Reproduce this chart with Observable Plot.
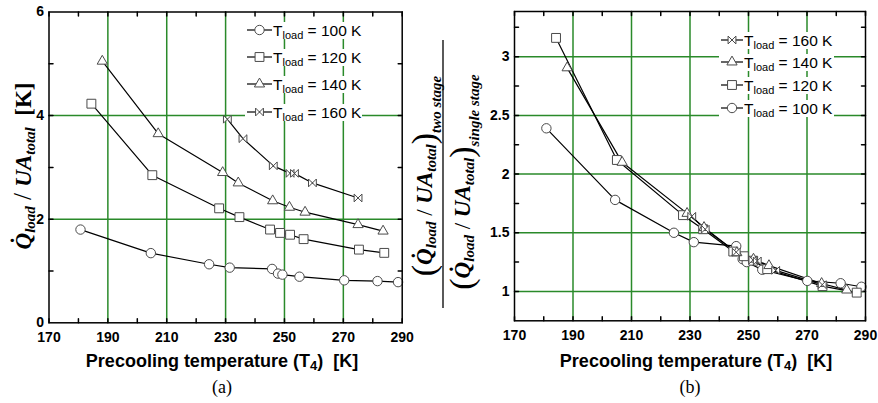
<!DOCTYPE html>
<html><head><meta charset="utf-8">
<script src="https://cdn.jsdelivr.net/npm/d3@7"></script>
<script src="https://cdn.jsdelivr.net/npm/@observablehq/plot@0.6"></script>
<style>
body{margin:0;background:#fff;}
#wrap{position:relative;width:878px;height:403px;overflow:hidden;font-family:"Liberation Sans",Arial,sans-serif;background:#fff;}
.panel{position:absolute;top:0;}
.xt{position:absolute;top:350px;height:22px;line-height:22px;font-weight:bold;font-size:18px;text-align:center;white-space:nowrap;}
.xt sub{font-size:13px;vertical-align:-3px;line-height:0;}
.cap{position:absolute;top:376px;height:22px;line-height:22px;font-family:"Liberation Serif","Times New Roman",serif;font-size:18px;text-align:center;}
#ov{position:absolute;left:0;top:0;}
</style></head><body><div id="wrap"></div>
<script>
// ---------- data: panel (a) ----------
const xA100 = [180.7, 204.6, 224.4, 231.4, 245.8, 247.8, 249.3, 255.1, 270.3, 281.6, 288.6];
const yA100 = [1.80, 1.345, 1.13, 1.065, 1.04, 0.95, 0.93, 0.89, 0.82, 0.805, 0.785];
const xA120 = [184.4, 205.1, 227.8, 234.7, 245.1, 248.5, 251.9, 256.5, 275.3, 283.9];
const yA120 = [4.23, 2.85, 2.21, 2.04, 1.80, 1.735, 1.70, 1.615, 1.413, 1.35];
const xA140 = [188.1, 207.1, 229.0, 234.3, 246.0, 251.7, 257.0, 275.0, 283.5];
const yA140 = [5.05, 3.65, 2.90, 2.70, 2.355, 2.23, 2.135, 1.895, 1.77];
const xA160 = [230.6, 235.9, 246.2, 251.9, 253.4, 259.5, 275.0];
const yA160 = [3.93, 3.555, 3.03, 2.885, 2.885, 2.70, 2.41];
// ---------- data: panel (b) ----------
const xB100 = [180.9, 204.4, 224.5, 231.3, 245.8, 248.0, 249.4, 254.7, 270.1, 281.5, 288.6];
const yB100 = [2.39, 1.78, 1.50, 1.42, 1.386, 1.275, 1.25, 1.185, 1.09, 1.07, 1.04];
const xB120 = [184.2, 205.0, 227.6, 234.5, 244.8, 248.4, 251.6, 256.4, 275.3, 287.0];
const yB120 = [3.16, 2.12, 1.65, 1.53, 1.34, 1.30, 1.262, 1.19, 1.045, 0.99];
const xB140 = [188.0, 206.8, 229.0, 234.8, 246.0, 251.7, 257.0, 275.0, 283.6];
const yB140 = [2.905, 2.10, 1.665, 1.545, 1.33, 1.275, 1.22, 1.068, 1.012];
const xB160 = [230.6, 235.2, 245.8, 251.5, 253.0, 259.3, 275.2];
const yB160 = [1.64, 1.53, 1.335, 1.268, 1.26, 1.18, 1.058];
// ---------- axes ----------
const xTickLabels = [170, 190, 210, 230, 250, 270, 290];
const xGrid = [190, 210, 230, 250, 270];
const xMinor = [180, 200, 220, 240, 260, 280];
const yTickLabelsA = [0, 2, 4, 6];
const yGridA = [2, 4];
const yMinorA = [1, 3, 5];
const yTickLabelsB = [1, 1.5, 2, 2.5, 3];
const yGridB = [1, 1.5, 2, 2.5, 3];
const yMinorB = [1.25, 1.75, 2.25, 2.75, 3.25];
const legendA = ["100", "120", "140", "160"];
const legendB = ["160", "140", "120", "100"];

const GREEN = "#2a8a2a";
const MARK = "#4a4a4a";
const rows = (xs, ys) => xs.map((x, i) => ({x, y: ys[i]}));
const bowtie = {draw(ctx, size) { const w = Math.sqrt(size / Math.PI) * 0.85;
  ctx.moveTo(-w, -w); ctx.lineTo(w, w); ctx.lineTo(w, -w); ctx.lineTo(-w, w); ctx.closePath(); }};
const tickShape = {draw(ctx, l) { ctx.moveTo(0, 0); ctx.lineTo(0, -l); }};
const sym = {"100": ["circle", 4.7], "120": ["square", 5.0], "140": ["triangle", 3.8], "160": [bowtie, 4.6]};
const fmt = d => String(d);

function panel({series, xDom, yDom, yLabels, yGrid, yMinor, width, ml, mr, mt, mb}) {
  const allX = [...xTickLabels, ...xMinor];
  const allY = [...yLabels, ...yMinor].filter(v => v > yDom[0] && v < yDom[1]);
  const marks = [
    Plot.ruleX(xGrid, {x: d => d, stroke: GREEN, strokeWidth: 1.5}),
    Plot.ruleY(yGrid, {y: d => d, stroke: GREEN, strokeWidth: 1.5}),
    Plot.vector(allX, {x: d => d, y: () => yDom[0], length: 4, rotate: 0, anchor: "start", shape: tickShape, stroke: "black"}),
    Plot.vector(allX, {x: d => d, y: () => yDom[1], length: 4, rotate: 180, anchor: "start", shape: tickShape, stroke: "black"}),
    Plot.vector(allY, {x: () => xDom[0], y: d => d, length: 4, rotate: 90, anchor: "start", shape: tickShape, stroke: "black"}),
    Plot.vector(allY, {x: () => xDom[1], y: d => d, length: 4, rotate: -90, anchor: "start", shape: tickShape, stroke: "black"}),
    Plot.axisX(xTickLabels, {tickSize: 0, tickPadding: 9, label: null, fontWeight: "bold", tickFormat: fmt}),
    Plot.axisY(yLabels, {tickSize: 0, tickPadding: 5, label: null, fontWeight: "bold", tickFormat: fmt})
  ];
  for (const [k, data] of series) marks.push(Plot.line(data, {x: "x", y: "y", stroke: "black", strokeWidth: 1.2}));
  for (const [k, data] of series) marks.push(Plot.dot(data, {x: "x", y: "y", symbol: sym[k][0], r: sym[k][1], fill: "white", stroke: MARK, strokeWidth: 1}));
  marks.push(Plot.frame({stroke: "black", strokeWidth: 1.5}));
  return Plot.plot({
    width, height: 345,
    marginLeft: ml, marginRight: mr, marginTop: mt, marginBottom: mb,
    x: {domain: xDom}, y: {domain: yDom},
    style: {fontFamily: '"Liberation Sans", Arial, sans-serif', fontSize: "14px", fontWeight: "bold", color: "black", background: "transparent", overflow: "visible"},
    marks
  });
}

const wrap = document.getElementById("wrap");
const pA = panel({
  series: [["100", rows(xA100, yA100)], ["120", rows(xA120, yA120)], ["140", rows(xA140, yA140)], ["160", rows(xA160, yA160)]],
  xDom: [170, 290], yDom: [0, 6], yLabels: yTickLabelsA, yGrid: yGridA, yMinor: yMinorA,
  width: 440, ml: 48.5, mr: 38.3, mt: 11.5, mb: 22.7
});
pA.classList.add("panel"); pA.style.left = "0px"; wrap.appendChild(pA);
const pB = panel({
  series: [["100", rows(xB100, yB100)], ["120", rows(xB120, yB120)], ["140", rows(xB140, yB140)], ["160", rows(xB160, yB160)]],
  xDom: [170, 290], yDom: [0.75, 3.385], yLabels: yTickLabelsB, yGrid: yGridB, yMinor: yMinorB,
  width: 438, ml: 74, mr: 13, mt: 11, mb: 24.7
});
pB.classList.add("panel"); pB.style.left = "440px"; wrap.appendChild(pB);

// x titles and captions
const t1 = document.createElement("div"); t1.className = "xt"; t1.style.left = "22px"; t1.style.width = "400px";
t1.innerHTML = "Precooling temperature (T<sub>4</sub>)&nbsp; [K]"; wrap.appendChild(t1);
const t2 = document.createElement("div"); t2.className = "xt"; t2.style.left = "496px"; t2.style.width = "400px";
t2.innerHTML = "Precooling temperature (T<sub>4</sub>)&nbsp; [K]"; wrap.appendChild(t2);
const c1 = document.createElement("div"); c1.className = "cap"; c1.style.left = "172px"; c1.style.width = "100px"; c1.textContent = "(a)"; wrap.appendChild(c1);
const c2 = document.createElement("div"); c2.className = "cap"; c2.style.left = "640px"; c2.style.width = "100px"; c2.textContent = "(b)"; wrap.appendChild(c2);

// overlay: y titles and legends
const ov = d3.select(wrap).append("svg").attr("id", "ov").attr("width", 878).attr("height", 403);
const SERIF = '"Liberation Serif", "Times New Roman", serif';

// left y title
const gA = ov.append("g").attr("transform", "translate(31,166) rotate(-90)");
const tA = gA.append("text").attr("x", 0).attr("y", 0).attr("text-anchor", "middle")
  .attr("font-family", SERIF).attr("font-weight", "bold").attr("font-size", 23);
tA.append("tspan").attr("font-style", "italic").text("Q\u0307");
tA.append("tspan").attr("font-style", "italic").attr("font-size", 15).attr("dy", 3.5).text("load");
tA.append("tspan").attr("dy", -3.5).attr("font-weight", "normal").attr("font-size", 25).text(" / ");
tA.append("tspan").attr("font-style", "italic").text("UA");
tA.append("tspan").attr("font-style", "italic").attr("font-size", 15).attr("dy", 3.5).text("total");
tA.append("tspan").attr("dy", -3.5).text("\u00a0\u00a0[K]");

// right y title (fraction)
function parenGroup(cy, baseX, sub) {
  const g = ov.append("g").attr("transform", `translate(${baseX},${cy}) rotate(-90)`);
  const t = g.append("text").attr("x", 0).attr("y", 0).attr("text-anchor", "middle")
    .attr("font-family", SERIF).attr("font-weight", "bold").attr("font-size", 23);
  t.append("tspan").attr("font-size", 34).attr("font-weight", "normal").attr("dy", 3).text("(");
  t.append("tspan").attr("font-style", "italic").attr("dy", -3).text("Q\u0307");
  t.append("tspan").attr("font-style", "italic").attr("font-size", 15).attr("dy", 4).text("load");
  t.append("tspan").attr("dy", -4).attr("font-weight", "normal").text(" / ");
  t.append("tspan").attr("font-style", "italic").text("UA");
  t.append("tspan").attr("font-style", "italic").attr("font-size", 15).attr("dy", 4).text("total");
  t.append("tspan").attr("font-size", 34).attr("font-weight", "normal").attr("dy", -1).text(")");
  t.append("tspan").attr("font-style", "italic").attr("font-size", 15).attr("dy", 6).text(sub);
}
parenGroup(176, 432, "two stage");
parenGroup(182, 470, "single stage");
ov.append("line").attr("x1", 443).attr("x2", 443).attr("y1", 40).attr("y2", 308).attr("stroke", "black").attr("stroke-width", 1.3);

// legends
function legend(keys, x0, ys, lineLen, textW) {
  keys.forEach((k, i) => {
    const y = ys[i];
    ov.append("rect").attr("x", x0 - 2).attr("y", y - 8).attr("width", textW).attr("height", 17).attr("fill", "white");
    ov.append("line").attr("x1", x0).attr("x2", x0 + lineLen).attr("y1", y).attr("y2", y).attr("stroke", "black").attr("stroke-width", 1.2);
    const [s, r] = sym[k];
    const type = s === "circle" ? d3.symbolCircle : s === "square" ? d3.symbolSquare : s === "triangle" ? d3.symbolTriangle : bowtie;
    ov.append("path").attr("transform", `translate(${x0 + lineLen / 2},${y})`)
      .attr("d", d3.symbol().type(type).size(Math.PI * r * r)()).attr("fill", "white").attr("stroke", MARK);
    const t = ov.append("text").attr("x", x0 + lineLen + 1).attr("y", y + 5.5)
      .attr("font-family", '"Liberation Sans", Arial, sans-serif').attr("font-size", 15.5);
    t.append("tspan").text("T");
    t.append("tspan").attr("font-size", 11).attr("dy", 3).text("load");
    t.append("tspan").attr("dy", -3).text(` = ${k} K`);
  });
}
legend(legendA, 247, [30, 57, 84, 112], 25, 117);
legend(legendB, 721, [40, 62, 85, 108], 22, 115);
</script></body></html>
